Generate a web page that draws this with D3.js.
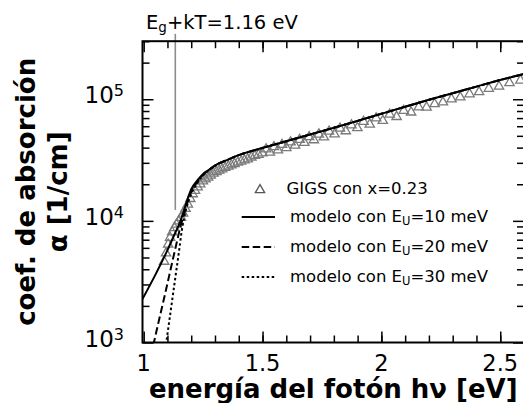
<!DOCTYPE html>
<html>
<head>
<meta charset="utf-8">
<script src="https://cdn.jsdelivr.net/npm/d3@7"></script>
<style>
  html, body { margin: 0; padding: 0; background: #fff; }
  svg { display: block; font-family: "DejaVu Sans", sans-serif; }
</style>
</head>
<body>
<div id="chart"></div>
<script>
// ── datos medidos (GIGS, x = 0.23) ─────────────────────────────────────────
const energiaDatos = [1.086, 1.094, 1.103, 1.111, 1.120, 1.129, 1.138, 1.147, 1.157, 1.166,
  1.176, 1.186, 1.196, 1.206, 1.216, 1.227, 1.238, 1.249, 1.260, 1.271, 1.282, 1.294, 1.306,
  1.318, 1.330, 1.343, 1.356, 1.369, 1.382, 1.396, 1.410, 1.424, 1.438, 1.453, 1.468, 1.483,
  1.499, 1.515, 1.531, 1.548, 1.565, 1.582, 1.600, 1.618, 1.637, 1.656, 1.676, 1.696, 1.716,
  1.737, 1.758, 1.780, 1.803, 1.826, 1.850, 1.874, 1.899, 1.925, 1.951, 1.978, 2.006, 2.035,
  2.064, 2.094, 2.125, 2.157, 2.190, 2.224, 2.259, 2.295, 2.332, 2.371, 2.411, 2.452, 2.495,
  2.539, 2.585];
const alfaDatos = [4700, 5500, 6500, 7400, 8200, 8900, 9500, 10100, 10800, 11700,
  12800, 13870, 15420, 16870, 17990, 19230, 20370, 21530, 22340, 23120, 23990, 24950, 25700,
  26360, 27040, 27800, 28510, 29170, 29920, 30690, 31330, 31990, 32660, 33810, 34830, 35480,
  36640, 39450, 37070, 41120, 38730, 42950, 40460, 44980, 42360, 47210, 44570, 49660, 46880,
  52240, 49430, 55210, 52360, 58480, 55590, 62230, 59020, 66370, 63100, 70960, 67610, 76210,
  72780, 81660, 79250, 87300, 87100, 92900, 95940, 101600, 105400, 111900, 116400, 124200, 129400,
  138400, 145200];

// ── modelos: tramo inicial propio de cada E_U + tramo común ───────────────
const energiaComun = [1.3, 1.35, 1.4, 1.45, 1.5, 1.6, 1.7, 1.8, 1.9, 2.0, 2.1, 2.2, 2.3, 2.4, 2.5, 2.6];
const alfaComun = [28500, 31600, 34700, 37300, 39800, 45200, 51300, 58200, 66400, 75900, 86700,
  98900, 112000, 127000, 144000, 161000];

const energiaEU10 = [0.995, 1.05, 1.1, 1.13, 1.155, 1.175, 1.2, 1.225, 1.25, 1.275];
const alfaEU10 = [2280, 3630, 5750, 7760, 10000, 13200, 18200, 21400, 24300, 26300];
const energiaEU20 = [1.02, 1.06, 1.09, 1.12, 1.14, 1.155, 1.175, 1.2, 1.225, 1.25, 1.275];
const alfaEU20 = [631, 1400, 2510, 4570, 6760, 9020, 12300, 17400, 20900, 24000, 26300];
const energiaEU30 = [1.085, 1.11, 1.13, 1.15, 1.163, 1.175, 1.19, 1.2, 1.225, 1.25, 1.275];
const alfaEU30 = [724, 1620, 3090, 5890, 9020, 11700, 14800, 16600, 20400, 23700, 26200];

const etiquetasModelo = ['10', '20', '30'];
const estilosModelo = [null, '7.5,3.5', '2.5,2.5'];

// Eg + kT marker
const energiaEgkT = 1.133;
const alfaLineaEg = [12300, 345000];

const xMayores = [1, 1.5, 2, 2.5];
const yMayores = [1e3, 1e4, 1e5];
const yExponentes = ['3', '4', '5'];

// ── layout ────────────────────────────────────────────────────────────────
const W = 523, H = 403;
const m = { left: 142.5, right: 524, top: 41.2, bottom: 342.5 };

const svg = d3.select('#chart').append('svg')
  .attr('width', W).attr('height', H);

const x = d3.scaleLinear().domain([0.995, 2.6]).range([m.left, m.right]);
const y = d3.scaleLog().domain([1e3, 3e5]).range([m.bottom, m.top]);

svg.append('defs').append('clipPath').attr('id', 'clip')
  .append('rect')
  .attr('x', m.left).attr('y', m.top)
  .attr('width', m.right - m.left).attr('height', m.bottom - m.top);

// vertical Eg+kT line (goes above the frame up to the label)
svg.append('line')
  .attr('x1', x(energiaEgkT)).attr('x2', x(energiaEgkT))
  .attr('y1', y(alfaLineaEg[0])).attr('y2', y(alfaLineaEg[1]))
  .attr('stroke', '#8c8c8c').attr('stroke-width', 1.6);

const plot = svg.append('g').attr('clip-path', 'url(#clip)');

// data triangles
const tri = d3.symbol().type(d3.symbolTriangle).size(38);
plot.selectAll('.dato')
  .data(energiaDatos.map((e, i) => [e, alfaDatos[i]]))
  .enter().append('path')
  .attr('class', 'dato')
  .attr('d', tri)
  .attr('transform', d => `translate(${x(d[0])},${y(d[1]) + 0.8})`)
  .attr('fill', 'none')
  .attr('stroke', '#7a7a7a')
  .attr('stroke-width', 1.3);

// model lines
const linea = d3.line().x(d => x(d[0])).y(d => y(d[1])).curve(d3.curveMonotoneX);
const tramoComun = energiaComun.map((e, i) => [e, alfaComun[i]]);
const modelos = [
  energiaEU10.map((e, i) => [e, alfaEU10[i]]).concat(tramoComun),
  energiaEU20.map((e, i) => [e, alfaEU20[i]]).concat(tramoComun),
  energiaEU30.map((e, i) => [e, alfaEU30[i]]).concat(tramoComun),
];
modelos.forEach((pts, i) => {
  plot.append('path')
    .datum(pts)
    .attr('d', linea)
    .attr('fill', 'none')
    .attr('stroke', '#000')
    .attr('stroke-width', 2)
    .attr('stroke-dasharray', estilosModelo[i]);
});

// ── ticks (all pointing inward) ──────────────────────────────────────────
function estiloTicks(g) {
  g.select('.domain').remove();
  g.selectAll('line').attr('stroke', '#000').attr('stroke-width', 1.5);
}
const xMenores = x.ticks(16).filter(v => v > 1.0 && v < 2.6);
const yMenores = y.ticks().filter(v => !yMayores.includes(v));

svg.append('g').attr('transform', `translate(0,${m.bottom})`)
  .call(d3.axisBottom(x).tickValues(xMenores).tickSize(-7).tickFormat('')).call(estiloTicks);
svg.append('g').attr('transform', `translate(0,${m.bottom})`)
  .call(d3.axisBottom(x).tickValues(xMayores).tickSize(-11).tickFormat('')).call(estiloTicks);
svg.append('g').attr('transform', `translate(0,${m.top})`)
  .call(d3.axisTop(x).tickValues(xMenores).tickSize(-7).tickFormat('')).call(estiloTicks);
svg.append('g').attr('transform', `translate(0,${m.top})`)
  .call(d3.axisTop(x).tickValues(xMayores).tickSize(-11).tickFormat('')).call(estiloTicks);
svg.append('g').attr('transform', `translate(${m.left},0)`)
  .call(d3.axisLeft(y).tickValues(yMenores).tickSize(-7).tickFormat('')).call(estiloTicks);
svg.append('g').attr('transform', `translate(${m.left},0)`)
  .call(d3.axisLeft(y).tickValues(yMayores).tickSize(-11).tickFormat('')).call(estiloTicks);
svg.append('g').attr('transform', `translate(${m.right},0)`)
  .call(d3.axisRight(y).tickValues(yMenores).tickSize(-7).tickFormat('')).call(estiloTicks);
svg.append('g').attr('transform', `translate(${m.right},0)`)
  .call(d3.axisRight(y).tickValues(yMayores).tickSize(-11).tickFormat('')).call(estiloTicks);

// frame
svg.append('rect')
  .attr('x', m.left).attr('y', m.top)
  .attr('width', m.right - m.left).attr('height', m.bottom - m.top)
  .attr('fill', 'none').attr('stroke', '#000').attr('stroke-width', 2);

// tick labels
svg.selectAll('.xlab').data(xMayores).enter().append('text')
  .attr('x', d => x(d)).attr('y', 370.5)
  .attr('text-anchor', 'middle')
  .attr('font-size', 22.5)
  .attr('fill', '#000')
  .text(d => String(d));

yMayores.forEach((v, i) => {
  const t = svg.append('text')
    .attr('x', 124).attr('y', y(v) + 4)
    .attr('text-anchor', 'end')
    .attr('fill', '#000');
  t.append('tspan').attr('font-size', 23).text('10');
  t.append('tspan').attr('font-size', 16).attr('dy', -7).text(yExponentes[i]);
});

// axis titles
svg.append('text')
  .attr('x', (m.left + m.right) / 2).attr('y', 397.5)
  .attr('text-anchor', 'middle')
  .attr('font-size', 26).attr('font-weight', 'bold')
  .text('energía del fotón hν [eV]');

['coef. de absorción', 'α [1/cm]'].forEach((s, i) => {
  svg.append('text')
    .attr('transform', `translate(${34.5 + i * 32},${(m.top + m.bottom) / 2}) rotate(-90)`)
    .attr('text-anchor', 'middle')
    .attr('font-size', 26).attr('font-weight', 'bold')
    .text(s);
});

// Eg+kT label
const eg = svg.append('text').attr('x', 146).attr('y', 28.5).attr('font-size', 19.5);
eg.append('tspan').text('E');
eg.append('tspan').attr('font-size', 13.5).attr('dy', 3.5).text('g');
eg.append('tspan').attr('dy', -3.5).text('+kT=1.16 eV');

// ── legend ────────────────────────────────────────────────────────────────
svg.append('path')
  .attr('d', tri)
  .attr('transform', 'translate(260,190)')
  .attr('fill', 'none').attr('stroke', '#555').attr('stroke-width', 1.3);
svg.append('text')
  .attr('x', 286.5).attr('y', 193.5)
  .attr('font-size', 16.5)
  .text('GIGS con x=0.23');

etiquetasModelo.forEach((eu, i) => {
  const yy = 217 + i * 30;
  svg.append('line')
    .attr('x1', 241.7).attr('x2', 275)
    .attr('y1', yy).attr('y2', yy)
    .attr('stroke', '#000').attr('stroke-width', 2)
    .attr('stroke-dasharray', estilosModelo[i]);
  const t = svg.append('text')
    .attr('x', 290).attr('y', yy + 5)
    .attr('font-size', 16.5);
  t.append('tspan').text('modelo con E');
  t.append('tspan').attr('font-size', 11.5).attr('dy', 3).text('U');
  t.append('tspan').attr('dy', -3).text(`=${eu} meV`);
});
</script>
</body>
</html>
